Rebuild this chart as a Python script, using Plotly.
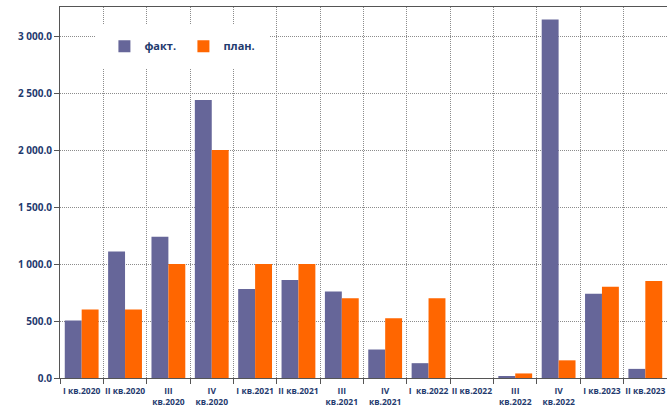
import plotly.graph_objects as go

categories = ["I кв.2020", "II кв.2020", "III<br>кв.2020", "IV<br>кв.2020", "I кв.2021", "II кв.2021",
              "III<br>кв.2021", "IV<br>кв.2021", "I  кв.2022", "II кв.2022", "III<br>кв.2022", "IV<br>кв.2022",
              "I кв.2023", "II кв.2023"]
fact = [505, 1110, 1240, 2440, 780, 860, 760, 250, 130, 0, 10, 3145, 740, 80]
plan = [600, 600, 1000, 2000, 1000, 1000, 700, 525, 700, 0, 40, 155, 800, 850]
y_ticks = [0, 500, 1000, 1500, 2000, 2500, 3000]

idx = list(range(len(categories)))
label_color = "#1F3A6E"
font_family = "Open Sans, Liberation Sans, sans-serif"
grid_color = "#8c8c8c"

fig = go.Figure()
fig.add_trace(go.Bar(x=idx, y=fact, name="факт.", marker=dict(color="#666699", line=dict(width=0))))
fig.add_trace(go.Bar(x=idx, y=plan, name="план.", marker=dict(color="#FF6600", line=dict(width=0))))

# invisible trace on overlaid axis to draw category boundary gridlines and ticks
fig.add_trace(go.Scatter(x=[-0.5, len(categories) - 0.5], y=[0, 0], xaxis="x2", mode="none",
                         showlegend=False, hoverinfo="skip"))

fig.update_layout(
    width=667, height=408,
    margin=dict(l=60, r=0, t=7, b=30),
    paper_bgcolor="white", plot_bgcolor="white",
    barmode="group", bargap=0.22, bargroupgap=0,
    separators=". ",
    font=dict(family=font_family, size=9, color=label_color),
    xaxis=dict(
        range=[-0.5, len(categories) - 0.5],
        tickmode="array", tickvals=idx, ticktext=categories,
        showgrid=False, showline=False,
        ticks="", ticklabelstandoff=6,
        tickfont=dict(size=8.5, color=label_color, family=font_family, weight="bold"),
        tickangle=0, zeroline=False,
    ),
    xaxis2=dict(
        overlaying="x", side="bottom", range=[-0.5, len(categories) - 0.5],
        tickmode="array", tickvals=[i - 0.5 for i in range(len(categories) + 1)],
        showticklabels=False, ticks="outside", ticklen=5, tickcolor="#555555",
        showgrid=True, gridcolor=grid_color, griddash="1px,1px", gridwidth=1,
        showline=True, linecolor="#555555", linewidth=1, mirror=True, zeroline=False,
    ),
    yaxis=dict(
        range=[0, 3255], tickmode="array", tickvals=y_ticks, tickformat=",.1f",
        showgrid=True, gridcolor=grid_color, griddash="1px,1px", gridwidth=1,
        showline=True, linecolor="#555555", linewidth=1,
        ticks="outside", ticklen=5, tickcolor="#555555",
        tickfont=dict(size=10, color=label_color, family=font_family, weight="bold"),
        zeroline=False,
    ),
    legend=dict(
        orientation="h", x=0.06, y=0.955, xanchor="left", yanchor="top",
        bgcolor="white", bordercolor="white", borderwidth=8,
        font=dict(size=11, color=label_color, family=font_family, weight="bold"),
        entrywidth=34, itemwidth=30,
    ),
)

fig.write_html("out.html")
